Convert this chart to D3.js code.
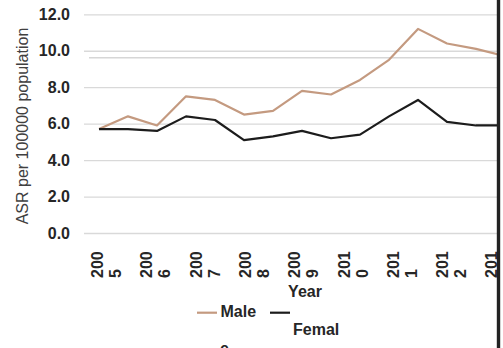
<!DOCTYPE html>
<html>
<head>
<meta charset="utf-8">
<script src="https://cdn.jsdelivr.net/npm/d3@7"></script>
<style>
    body { margin: 0; background: #ffffff; }
    svg { display: block; font-family: "Liberation Sans", Arial, sans-serif; }
</style>
</head>
<body>
<svg id="chartsvg" width="503" height="348"></svg>
<script>
// data
var years = [2005, 2006, 2007, 2008, 2009, 2010, 2011, 2012, 2013, 2014, 2015, 2016, 2017, 2018, 2019]
var male = [5.7, 6.4, 5.9, 7.5, 7.3, 6.5, 6.7, 7.8, 7.6, 8.4, 9.5, 11.2, 10.4, 10.1, 9.7]
var female = [5.7, 5.7, 5.6, 6.4, 6.2, 5.1, 5.3, 5.6, 5.2, 5.4, 6.4, 7.3, 6.1, 5.9, 5.9]
var tickLabels = [["200", "5"], ["200", "6"], ["200", "7"], ["200", "8"], ["200", "9"],
                  ["201", "0"], ["201", "1"], ["201", "2"], ["201", "3"]]
var yTicks = [0, 2, 4, 6, 8, 10, 12]

var svg = d3.select("#chartsvg")
var maleColor = "#c49a80"
var femaleColor = "#1c1c1c"

var x = d3.scalePoint()
    .domain(years)
    .range([99, 505])

var xLabel = d3.scalePoint()
    .domain(d3.range(tickLabels.length))
    .range([103, 497.4])

var y = d3.scaleLinear()
    .domain([0, 12])
    .range([233, 14.3])

svg.append("defs").append("clipPath")
    .attr("id", "plotclip")
    .append("rect")
    .attr("x", 0).attr("y", 0)
    .attr("width", 497).attr("height", 348)

// gridlines
var yAxis = d3.axisLeft(y)
    .tickValues(yTicks)
    .tickSize(-(497 - 84))
    .tickFormat(d3.format(".1f"))
    .tickPadding(14)

var gy = svg.append("g")
    .attr("transform", "translate(84,0)")
    .call(yAxis)
gy.select(".domain").remove()
gy.selectAll(".tick line")
    .attr("stroke", "#d9d9d9")
    .attr("stroke-width", 1.3)
gy.selectAll(".tick text")
    .attr("fill", "#262626")
    .attr("font-size", "16px")
    .attr("font-weight", "bold")
    .attr("font-family", "Liberation Sans, Arial, sans-serif")

// stray line under the 10.0 grid
svg.append("line")
    .attr("x1", 89).attr("x2", 497)
    .attr("y1", 57.7).attr("y2", 57.7)
    .attr("stroke", "#d6d6d6")
    .attr("stroke-width", 1.5)

var line = d3.line()
    .x(function(d, i) { return x(years[i]) })
    .y(function(d) { return y(d) })

var plot = svg.append("g").attr("clip-path", "url(#plotclip)")

plot.append("path")
    .datum(male)
    .attr("d", line)
    .attr("fill", "none")
    .attr("stroke", maleColor)
    .attr("stroke-width", 2.2)
    .attr("stroke-linejoin", "round")

plot.append("path")
    .datum(female)
    .attr("d", line)
    .attr("fill", "none")
    .attr("stroke", femaleColor)
    .attr("stroke-width", 2.2)
    .attr("stroke-linejoin", "round")

// x tick labels, wrapped and turned
var xl = plot.selectAll(".xlabel")
    .data(tickLabels)
    .enter()
    .append("text")
    .attr("class", "xlabel")
    .attr("transform", function(d, i) { return "translate(" + xLabel(i) + ",278) rotate(-90)" })
    .attr("fill", "#262626")
    .attr("font-size", "16px")
    .attr("font-weight", "bold")
    .attr("text-anchor", "start")
xl.append("tspan")
    .attr("x", 0).attr("y", 0)
    .text(function(d) { return d[0] })
xl.append("tspan")
    .attr("x", 0).attr("y", 18)
    .text(function(d) { return d[1] })

svg.append("text")
    .attr("x", 305)
    .attr("y", 297)
    .attr("text-anchor", "middle")
    .attr("fill", "#262626")
    .attr("font-size", "16px")
    .attr("font-weight", "bold")
    .text("Year")

svg.append("text")
    .attr("transform", "translate(28,126) rotate(-90)")
    .attr("text-anchor", "middle")
    .attr("fill", "#404040")
    .attr("font-size", "16px")
    .text("ASR per 100000 population")

// legend
svg.append("line")
    .attr("x1", 197).attr("x2", 217)
    .attr("y1", 312.7).attr("y2", 312.7)
    .attr("stroke", maleColor)
    .attr("stroke-width", 2.2)
svg.append("text")
    .attr("x", 220.5).attr("y", 316.5)
    .attr("fill", "#262626")
    .attr("font-size", "16px")
    .attr("font-weight", "bold")
    .text("Male")
svg.append("line")
    .attr("x1", 270).attr("x2", 290)
    .attr("y1", 312.7).attr("y2", 312.7)
    .attr("stroke", femaleColor)
    .attr("stroke-width", 2.2)
svg.append("text")
    .attr("x", 293).attr("y", 335)
    .attr("fill", "#262626")
    .attr("font-size", "16px")
    .attr("font-weight", "bold")
    .text("Femal")
svg.append("text")
    .attr("x", 220).attr("y", 354)
    .attr("fill", "#262626")
    .attr("font-size", "16px")
    .attr("font-weight", "bold")
    .text("e")

// dark edge on the right
svg.append("rect")
    .attr("x", 496.8).attr("y", 0)
    .attr("width", 3.4).attr("height", 348)
    .attr("fill", "#222222")
</script>
</body>
</html>
